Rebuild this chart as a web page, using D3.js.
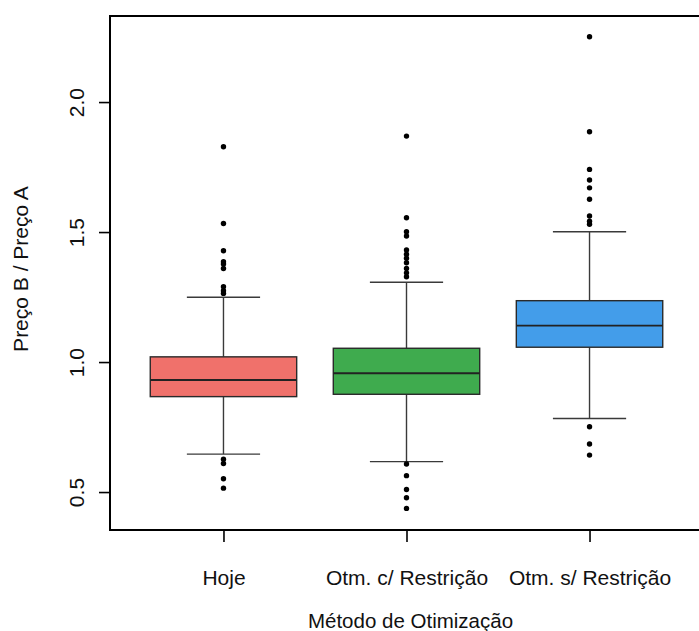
<!DOCTYPE html>
<html>
<head>
<meta charset="utf-8">
<script src="https://cdn.jsdelivr.net/npm/d3@7"></script>
<style>
  html, body { margin: 0; padding: 0; background: #fff; }
  svg { display: block; }
  text { font-family: "Liberation Sans", Arial, sans-serif; fill: #111; }
</style>
</head>
<body>
<svg id="chart" width="699" height="631"></svg>
<script>
// Groups (optimisation methods)
const categories = ["Hoje", "Otm. c/ Restrição", "Otm. s/ Restrição"];
const boxColors = ["#f0716b", "#3fab4e", "#439dea"];

// Five-number summaries per group
const whiskerLow  = [0.646, 0.617, 0.783];
const q1          = [0.867, 0.876, 1.057];
const medians     = [0.931, 0.957, 1.140];
const q3          = [1.020, 1.053, 1.236];
const whiskerHigh = [1.249, 1.307, 1.501];

// Points beyond the whiskers
const outliersHoje = [1.828, 1.533, 1.428, 1.386, 1.377, 1.360, 1.290, 1.274, 1.264,
                      0.626, 0.610, 0.551, 0.515];
const outliersComRestricao = [1.869, 1.555, 1.501, 1.485, 1.431, 1.415, 1.399, 1.382,
                              1.360, 1.343, 1.328, 0.608, 0.563, 0.510, 0.478, 0.437];
const outliersSemRestricao = [2.251, 1.886, 1.741, 1.700, 1.670, 1.626, 1.562, 1.542,
                              1.530, 0.751, 0.685, 0.642];
const outliers = [outliersHoje, outliersComRestricao, outliersSemRestricao];

// Axis ticks
const yTicks = [0.5, 1.0, 1.5, 2.0];

const yTitle = "Preço B / Preço A";
const xTitle = "Método de Otimização";

const svg = d3.select("#chart");
const plot = { left: 110, top: 16, right: 703, bottom: 530 };

// Group index 1..n on a linear scale, padded like a base-R boxplot
const x = d3.scaleLinear().domain([0.38, 3.62]).range([plot.left, plot.right]);
const y = d3.scaleLinear().domain([0.354, 2.331]).range([plot.bottom, plot.top]);

const boxHalf = x(1.4) - x(1);          // box width 0.8 units
const capHalf = boxHalf / 2;            // staples half the box width

const groups = categories.map((c, i) => ({
  name: c, idx: i + 1, color: boxColors[i],
  lo: whiskerLow[i], q1: q1[i], med: medians[i], q3: q3[i], hi: whiskerHigh[i],
  out: outliers[i]
}));

const g = svg.append("g");

// whiskers and staples
g.selectAll(".whisker").data(groups).join("g").attr("class", "whisker")
  .each(function(d) {
    const s = d3.select(this);
    const cx = x(d.idx);
    const seg = (x1, y1, x2, y2) => s.append("line")
      .attr("x1", x1).attr("y1", y1).attr("x2", x2).attr("y2", y2)
      .attr("stroke", "#3a3a3a").attr("stroke-width", 1.4);
    seg(cx, y(d.q3), cx, y(d.hi));
    seg(cx, y(d.q1), cx, y(d.lo));
    seg(cx - capHalf, y(d.hi), cx + capHalf, y(d.hi));
    seg(cx - capHalf, y(d.lo), cx + capHalf, y(d.lo));
  });

// boxes
g.selectAll(".box").data(groups).join("rect").attr("class", "box")
  .attr("x", d => x(d.idx) - boxHalf)
  .attr("width", boxHalf * 2)
  .attr("y", d => y(d.q3))
  .attr("height", d => y(d.q1) - y(d.q3))
  .attr("fill", d => d.color)
  .attr("stroke", "#2a2a2a").attr("stroke-width", 1.4);

// medians
g.selectAll(".median").data(groups).join("line").attr("class", "median")
  .attr("x1", d => x(d.idx) - boxHalf).attr("x2", d => x(d.idx) + boxHalf)
  .attr("y1", d => y(d.med)).attr("y2", d => y(d.med))
  .attr("stroke", "#222").attr("stroke-width", 1.8);

// outlier points
g.selectAll(".outs").data(groups).join("g").attr("class", "outs")
  .selectAll("circle").data(d => d.out.map(v => ({ idx: d.idx, v })))
  .join("circle")
  .attr("cx", d => x(d.idx)).attr("cy", d => y(d.v)).attr("r", 2.7)
  .attr("fill", "#000");

// plot frame
svg.append("rect")
  .attr("x", plot.left).attr("y", plot.top)
  .attr("width", plot.right - plot.left).attr("height", plot.bottom - plot.top)
  .attr("fill", "none").attr("stroke", "#000").attr("stroke-width", 2);

// y axis
const yAxis = d3.axisLeft(y).tickValues(yTicks).tickFormat(d3.format(".1f"))
  .tickSize(11).tickPadding(0);
const ya = svg.append("g").attr("transform", `translate(${plot.left},0)`).call(yAxis);
ya.select(".domain").remove();
ya.selectAll(".tick line").attr("stroke", "#000").attr("stroke-width", 1.6);
ya.selectAll(".tick text")
  .attr("x", 0).attr("dy", null).attr("y", 0)
  .attr("transform", "translate(-26,0) rotate(-90)")
  .attr("text-anchor", "middle")
  .style("font-size", "21px");

// x axis
const xAxis = d3.axisBottom(x).tickValues([1, 2, 3]).tickFormat(d => categories[d - 1])
  .tickSize(12).tickPadding(0);
const xa = svg.append("g").attr("transform", `translate(0,${plot.bottom})`).call(xAxis);
xa.select(".domain").remove();
xa.selectAll(".tick line").attr("stroke", "#000").attr("stroke-width", 1.6);
xa.selectAll(".tick text").attr("y", 55).attr("dy", null)
  .style("font-size", "21px");

// axis titles
svg.append("text")
  .attr("transform", `translate(28,${(plot.top + plot.bottom) / 2 - 4}) rotate(-90)`)
  .attr("text-anchor", "middle")
  .style("font-size", "21px")
  .text(yTitle);

svg.append("text")
  .attr("x", x(2) + 4).attr("y", 628)
  .attr("text-anchor", "middle")
  .style("font-size", "20.5px")
  .text(xTitle);
</script>
</body>
</html>
